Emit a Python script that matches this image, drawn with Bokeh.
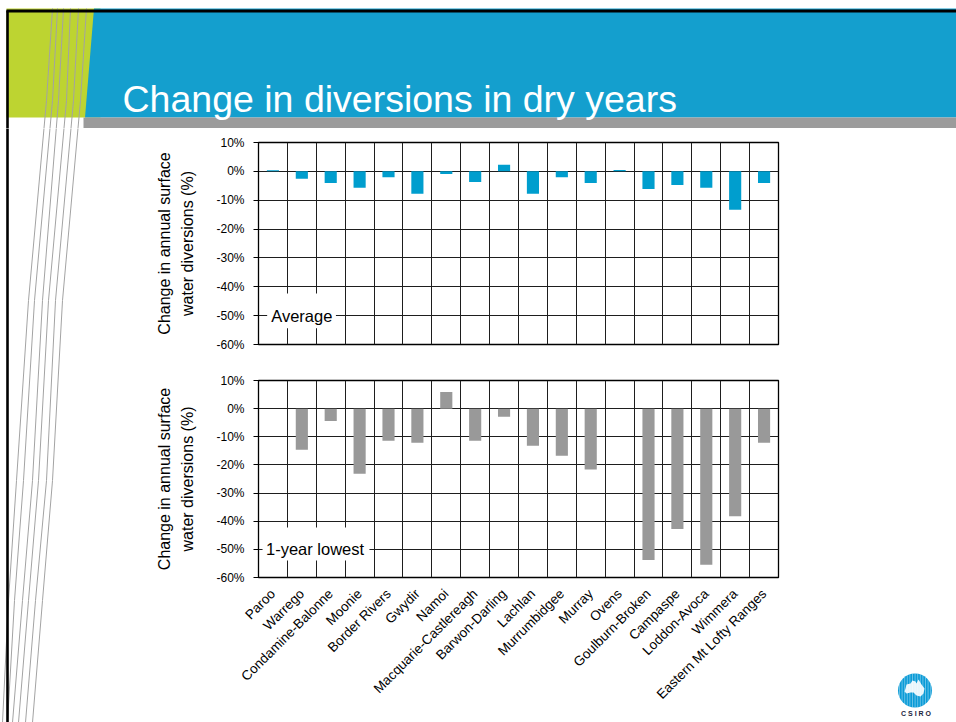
import math
import numpy as np
from bokeh.core.properties import value
from bokeh.embed import file_html
from bokeh.layouts import column, row
from bokeh.models import (ColumnDataSource, FactorRange, FixedTicker, Grid,
                          PrintfTickFormatter, Range1d)
from bokeh.plotting import figure
from bokeh.resources import INLINE

# ---- data ---------------------------------------------------------------
regions = ["Paroo", "Warrego", "Condamine-Balonne", "Moonie", "Border Rivers",
           "Gwydir", "Namoi", "Macquarie-Castlereagh", "Barwon-Darling",
           "Lachlan", "Murrumbidgee", "Murray", "Ovens", "Goulburn-Broken",
           "Campaspe", "Loddon-Avoca", "Wimmera", "Eastern Mt Lofty Ranges"]
average_change = [0.4, -2.6, -4.0, -5.7, -2.0, -7.8, -0.9, -3.7, 2.3,
                  -7.8, -2.0, -4.0, 0.5, -6.1, -4.7, -5.7, -13.3, -4.0]
lowest_change = [0.0, -14.6, -4.4, -23.1, -11.4, -12.1, 5.9, -11.4, -2.9,
                 -13.2, -16.7, -21.6, 0.0, -53.8, -42.8, -55.5, -38.2, -12.1]
percent_ticks = [10, 0, -10, -20, -30, -40, -50, -60]

slide_title = "Change in diversions in dry years"
axis_title = "Change in annual surface\nwater diversions (%)"
panel_names = ["Average", "1-year lowest"]

FONT = "Liberation Sans"
PAGE_W, PAGE_H = 956, 722
HEADER_H = 128
LEFT_W = 140
CHART_W = 660
RIGHT_W = PAGE_W - LEFT_W - CHART_W
BODY_H = PAGE_H - HEADER_H
TOP_CHART_H = 234

# thin slanted hairlines of the slide template (page pixel coordinates)
hair_y = [8, 100, 300, 480, 600, 722]
hair_x = [
    [52, 46, 28, 16, 8, 2],
    [57, 52, 34, 23, 14, 7],
    [63, 58, 42, 32, 22, 12],
    [70, 66, 48, 38, 28, 18],
    [78, 73, 55, 46, 35, 25],
    [86, 80, 62, 52, 42, 32],
]


def page_figure(w, h, x0, x1, y0, y1):
    """A bare figure whose data units are page pixels (y grows downward)."""
    p = figure(width=w, height=h, x_range=Range1d(x0, x1), y_range=Range1d(y1, y0),
               output_backend="svg", toolbar_location=None,
               x_axis_location=None, y_axis_location=None, min_border=0)
    p.grid.visible = False
    p.outline_line_color = None
    p.background_fill_color = "white"
    p.border_fill_color = "white"
    return p


def draw_hairlines(p):
    p.multi_line(xs=hair_x, ys=[hair_y] * len(hair_x), line_color="#a3a3a3", line_width=1)


def draw_frame(p):
    p.line(x=[6, PAGE_W], y=[10.5, 10.5], line_color="black", line_width=3)
    p.line(x=[7, 7], y=[10, PAGE_H], line_color="black", line_width=2.6)


# ---- header band -----------------------------------------------------------
header = page_figure(PAGE_W, HEADER_H, 0, PAGE_W, 0, HEADER_H)
header.quad(left=6, right=100, top=8, bottom=117, fill_color="#bdd431", line_color=None)
header.patch(x=[93.5, PAGE_W, PAGE_W, 84.5], y=[8, 8, 117, 117],
             fill_color="#149fce", line_color=None)
header.quad(left=83, right=PAGE_W, top=117, bottom=128, fill_color="#9b9b9b", line_color=None)
draw_hairlines(header)
draw_frame(header)
header.text(x=[122], y=[98], text=[slide_title], text_font=value(FONT),
            text_font_size="37.5px", text_color="white", text_baseline="alphabetic")

# ---- left margin -------------------------------------------------------------
left = page_figure(LEFT_W, BODY_H, 0, LEFT_W, HEADER_H, PAGE_H)
draw_hairlines(left)
draw_frame(left)

# ---- right margin with logo ----------------------------------------------------
right = page_figure(RIGHT_W, BODY_H, PAGE_W - RIGHT_W, PAGE_W, HEADER_H, PAGE_H)
cx, cy, r = 914.5, 690.0, 17.0
right.scatter(x=[cx], y=[cy], size=2 * r, marker="circle", fill_color="#0a9bd7", line_color=None)
sx = np.arange(cx - r + 1.5, cx + r - 1, 2.6)
half = np.sqrt(np.clip(r ** 2 - (sx - cx) ** 2, 0, None))
right.segment(x0=sx, y0=cy - half, x1=sx, y1=cy + half, line_color="white",
              line_width=0.7, line_alpha=0.55)
right.patch(x=[905, 906, 910, 912, 915, 916, 918, 921, 924, 923, 920, 916, 913, 910, 906, 904],
            y=[688, 684, 683, 680, 681, 683, 679, 684, 688, 693, 696, 695, 692, 692, 693, 691],
            fill_color="white", fill_alpha=0.9, line_color=None)
right.text(x=[cx + 1], y=[712.5], text=["C S I R O"], text_font=value(FONT),
           text_font_size="7px", text_font_style="bold", text_color="#1b2440",
           text_align="center", text_baseline="middle")


# ---- the two bar charts ------------------------------------------------------------
def make_chart(values, bar_color, tag, tag_box, height, top_pad, bottom_pad, with_labels):
    p = figure(x_range=FactorRange(factors=regions), y_range=Range1d(-60, 10),
               width=CHART_W, height=height, output_backend="svg",
               toolbar_location=None,
               x_axis_location="below" if with_labels else None,
               min_border_left=118, min_border_right=22,
               min_border_top=top_pad, min_border_bottom=bottom_pad)
    p.background_fill_color = "white"
    p.border_fill_color = "white"
    p.outline_line_color = "black"
    p.outline_line_width = 1.3

    # horizontal grid at every tick, vertical grid between categories
    p.ygrid.ticker = FixedTicker(ticks=percent_ticks)
    p.ygrid.grid_line_color = "#1e1e1e"
    p.ygrid.grid_line_width = 1
    p.xgrid.visible = False
    p.add_layout(Grid(dimension=0, ticker=FixedTicker(ticks=list(range(1, len(regions)))),
                      grid_line_color="#1e1e1e", grid_line_width=1))

    yax = p.yaxis[0]
    yax.ticker = FixedTicker(ticks=percent_ticks)
    yax.formatter = PrintfTickFormatter(format="%d%%")
    yax.minor_tick_line_color = None
    yax.major_tick_in = 0
    yax.major_tick_out = 5
    yax.major_tick_line_color = "black"
    yax.axis_line_color = "black"
    yax.major_label_text_font = FONT
    yax.major_label_text_font_size = "12px"
    yax.major_label_text_color = "black"
    yax.major_label_standoff = 9
    yax.axis_label = axis_title
    yax.axis_label_text_font = FONT
    yax.axis_label_text_font_size = "16px"
    yax.axis_label_text_font_style = "normal"
    yax.axis_label_text_color = "black"
    yax.axis_label_text_line_height = 1.4
    yax.axis_label_standoff = 17

    if with_labels:
        xax = p.xaxis[0]
        xax.major_label_orientation = math.pi / 4
        xax.major_tick_line_color = None
        xax.minor_tick_line_color = None
        xax.axis_line_color = None
        xax.major_label_text_font = FONT
        xax.major_label_text_font_size = "13.5px"
        xax.major_label_text_color = "black"
        xax.major_label_standoff = 8

    src = ColumnDataSource(data=dict(region=regions, change=values))
    p.vbar(x="region", top="change", bottom=0, width=0.42, source=src,
           fill_color=bar_color, line_color=None)

    # panel caption on a white box over the grid
    (bl, br, bt, bb), tx = tag_box
    p.quad(left=[bl], right=[br], top=[bt], bottom=[bb], fill_color="white", line_color=None)
    p.text(x=[tx], y=[-50], text=[tag], text_font=value(FONT), text_font_size="16.5px",
           text_color="black", text_baseline="middle", text_align="left")
    return p


top_chart = make_chart(average_change, "#009ece", panel_names[0],
                       ((0.3, 2.68, -42.3, -54.4), 0.44),
                       TOP_CHART_H, 14, 18, False)
bottom_chart = make_chart(lowest_change, "#999999", panel_names[1],
                          ((0.14, 3.84, -42.2, -54.0), 0.26),
                          BODY_H - TOP_CHART_H, 18, 145, True)

layout = column(header,
                row(left, column(top_chart, bottom_chart, spacing=0), right, spacing=0),
                spacing=0)

with open("out.html", "w") as f:
    f.write(file_html(layout, INLINE))
